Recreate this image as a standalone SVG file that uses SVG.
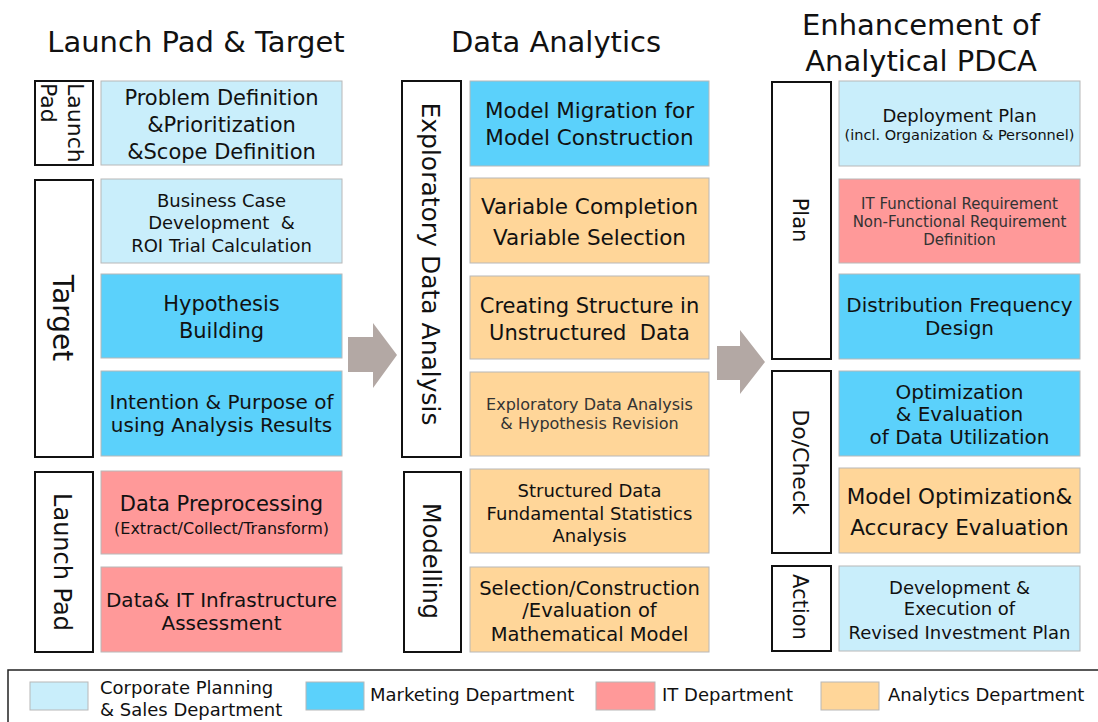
<svg xmlns="http://www.w3.org/2000/svg" width="1098" height="722" viewBox="0 0 1098 722">
<style>
text{font-family:"DejaVu Sans","Noto Sans",sans-serif;fill:#111;}
.t{text-anchor:middle;}
.lab{fill:#fff;stroke:#111;stroke-width:2;}
.box{stroke:#b8b8b8;stroke-width:1;}
.cp{fill:#C9EEFB;}
.mk{fill:#5BD1FB;}
.it{fill:#FF9999;}
.an{fill:#FFD699;}
.arr{fill:#B3A8A4;}
.title{font-size:29px;text-anchor:middle;}
.vert{text-anchor:middle;dominant-baseline:central;}
.lg{font-size:18px;}
</style>
<rect width="1098" height="722" fill="#fff"/>
<g id="titles">
<text class="title" x="196" y="52">Launch Pad &amp; Target</text>
<text class="title" x="556" y="52">Data Analytics</text>
<text class="title" x="921" y="35">Enhancement of</text>
<text class="title" x="921" y="71">Analytical PDCA</text>
</g>
<g id="connectors">
<polygon class="arr" points="348,337 373,337 373,323 397,355 373,388 373,372 348,372"/>
<polygon class="arr" points="717,346 740,346 740,330 765,362 740,394 740,380 717,380"/>
</g>
<g id="label-launchpad1"><rect class="lab" x="35" y="81" width="58" height="84"/>
<text font-size="22" transform="translate(64,83) rotate(90)"><tspan x="0" y="-4">Launch</tspan><tspan x="0" y="23">Pad</tspan></text></g>
<g id="label-target"><rect class="lab" x="35" y="180" width="58" height="277"/>
<text class="vert" font-size="28" transform="translate(62,318) rotate(90)">Target</text></g>
<g id="label-launchpad2"><rect class="lab" x="35" y="472" width="58" height="180"/>
<text class="vert" font-size="24" transform="translate(62,562) rotate(90)">Launch Pad</text></g>
<g id="label-eda"><rect class="lab" x="402" y="81" width="59" height="376"/>
<text class="vert" font-size="25" transform="translate(430,264) rotate(90)">Exploratory Data Analysis</text></g>
<g id="label-modelling"><rect class="lab" x="404" y="472" width="57" height="180"/>
<text class="vert" font-size="24" transform="translate(431,561) rotate(90)">Modelling</text></g>
<g id="label-plan"><rect class="lab" x="772" y="82" width="59" height="277"/>
<text class="vert" font-size="21" transform="translate(800,220) rotate(90)">Plan</text></g>
<g id="label-docheck"><rect class="lab" x="772" y="371" width="59" height="182"/>
<text class="vert" font-size="22" transform="translate(800,462) rotate(90)">Do/Check</text></g>
<g id="label-action"><rect class="lab" x="772" y="566" width="59" height="85"/>
<text class="vert" font-size="21" transform="translate(800,607) rotate(90)">Action</text></g>

<g id="n-problem"><rect class="box cp" x="101" y="81" width="241" height="84"/>
<text class="t" font-size="21"><tspan x="221.5" y="104.5">Problem Definition</tspan><tspan x="221.5" y="131.5">&amp;Prioritization</tspan><tspan x="221.5" y="158.5">&amp;Scope Definition</tspan></text></g>
<g id="n-business"><rect class="box cp" x="101" y="179" width="241" height="84"/>
<text class="t" font-size="18"><tspan x="221.5" y="206.5">Business Case</tspan><tspan x="221.5" y="229">Development&#160; &amp;</tspan><tspan x="221.5" y="251.5">ROI Trial Calculation</tspan></text></g>
<g id="n-hypothesis"><rect class="box mk" x="101" y="274" width="241" height="84"/>
<text class="t" font-size="21"><tspan x="221.5" y="310.5">Hypothesis</tspan><tspan x="221.5" y="337.5">Building</tspan></text></g>
<g id="n-intention"><rect class="box mk" x="101" y="371" width="241" height="85"/>
<text class="t" font-size="20"><tspan x="221.5" y="409">Intention &amp; Purpose of</tspan><tspan x="221.5" y="432">using Analysis Results</tspan></text></g>
<g id="n-preprocessing"><rect class="box it" x="101" y="471" width="241" height="83"/>
<text class="t"><tspan x="221.5" y="510.5" font-size="21">Data Preprocessing</tspan><tspan x="221.5" y="533.5" font-size="16">(Extract/Collect/Transform)</tspan></text></g>
<g id="n-infra"><rect class="box it" x="101" y="567" width="241" height="85"/>
<text class="t" font-size="20"><tspan x="221.5" y="607">Data&amp; IT Infrastructure</tspan><tspan x="221.5" y="630">Assessment</tspan></text></g>

<g id="n-migration"><rect class="box mk" x="470" y="81" width="239" height="85"/>
<text class="t" font-size="21.5"><tspan x="589.5" y="118">Model Migration for</tspan><tspan x="589.5" y="145">Model Construction</tspan></text></g>
<g id="n-variable"><rect class="box an" x="470" y="178" width="239" height="85"/>
<text class="t" font-size="21.5"><tspan x="589.5" y="213.5">Variable Completion</tspan><tspan x="589.5" y="245">Variable Selection</tspan></text></g>
<g id="n-structure"><rect class="box an" x="470" y="276" width="239" height="83"/>
<text class="t" font-size="21"><tspan x="589.5" y="312.5">Creating Structure in</tspan><tspan x="589.5" y="339.5">Unstructured&#160; Data</tspan></text></g>
<g id="n-eda"><rect class="box an" x="470" y="372" width="239" height="84"/>
<text class="t" font-size="16" style="fill:#333"><tspan x="589.5" y="410">Exploratory Data Analysis</tspan><tspan x="589.5" y="429">&amp; Hypothesis Revision</tspan></text></g>
<g id="n-stats"><rect class="box an" x="470" y="469" width="239" height="84"/>
<text class="t" font-size="18"><tspan x="589.5" y="496.5">Structured Data</tspan><tspan x="589.5" y="519.5">Fundamental Statistics</tspan><tspan x="589.5" y="541.5">Analysis</tspan></text></g>
<g id="n-math"><rect class="box an" x="470" y="567" width="239" height="85"/>
<text class="t" font-size="19.5"><tspan x="589.5" y="595">Selection/Construction</tspan><tspan x="589.5" y="617">/Evaluation of</tspan><tspan x="589.5" y="641">Mathematical Model</tspan></text></g>

<g id="n-deployment"><rect class="box cp" x="839" y="81" width="241" height="85"/>
<text class="t"><tspan x="959.5" y="121.5" font-size="18">Deployment Plan</tspan><tspan x="959.5" y="140" font-size="14.5">(incl. Organization &amp; Personnel)</tspan></text></g>
<g id="n-itreq"><rect class="box it" x="839" y="179" width="241" height="84"/>
<text class="t" font-size="15" style="fill:#333"><tspan x="959.5" y="208.5">IT Functional Requirement</tspan><tspan x="959.5" y="227">Non-Functional Requirement</tspan><tspan x="959.5" y="245">Definition</tspan></text></g>
<g id="n-distribution"><rect class="box mk" x="839" y="274" width="241" height="85"/>
<text class="t" font-size="20"><tspan x="959.5" y="312">Distribution Frequency</tspan><tspan x="959.5" y="335">Design</tspan></text></g>
<g id="n-optimization"><rect class="box mk" x="839" y="371" width="241" height="85"/>
<text class="t" font-size="20"><tspan x="959.5" y="399">Optimization</tspan><tspan x="959.5" y="421">&amp; Evaluation</tspan><tspan x="959.5" y="444">of Data Utilization</tspan></text></g>
<g id="n-accuracy"><rect class="box an" x="839" y="468" width="241" height="85"/>
<text class="t" font-size="21.5"><tspan x="959.5" y="503.5">Model Optimization&amp;</tspan><tspan x="959.5" y="534.5">Accuracy Evaluation</tspan></text></g>
<g id="n-investment"><rect class="box cp" x="839" y="566" width="241" height="85"/>
<text class="t" font-size="18"><tspan x="959.5" y="593.5">Development &amp;</tspan><tspan x="959.5" y="614.5">Execution of</tspan><tspan x="959.5" y="638.5">Revised Investment Plan</tspan></text></g>

<g id="legend">
<rect x="8" y="670" width="1100" height="70" fill="none" stroke="#222" stroke-width="1.5"/>
<rect class="box cp" x="30" y="682" width="58" height="28"/>
<text class="lg"><tspan x="100" y="694">Corporate Planning</tspan><tspan x="100" y="716">&amp; Sales Department</tspan></text>
<rect class="box mk" x="306" y="682" width="58" height="28"/>
<text class="lg" x="370" y="701">Marketing Department</text>
<rect class="box it" x="596" y="682" width="59" height="28"/>
<text class="lg" x="662" y="701">IT Department</text>
<rect class="box an" x="821" y="682" width="58" height="28"/>
<text class="lg" x="888" y="701">Analytics Department</text>
</g>
</svg>
